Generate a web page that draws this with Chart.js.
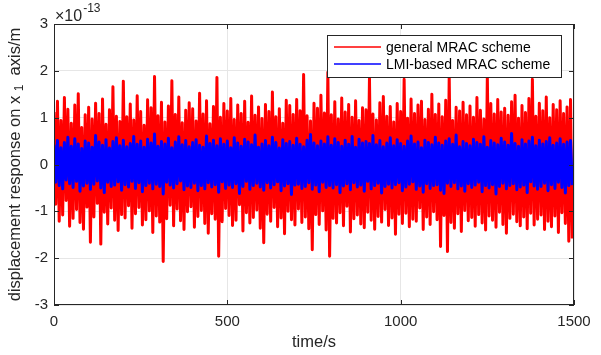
<!DOCTYPE html>
<html>
<head>
<meta charset="utf-8">
<script src="https://cdn.jsdelivr.net/npm/chart.js@4.4.0/dist/chart.umd.min.js"></script>
<style>
  body { margin: 0; background: #fff; }
  #wrap { width: 601px; height: 355px; }
</style>
</head>
<body>
<div id="wrap"><canvas id="plot" width="601" height="355"></canvas></div>
<script>
// Data (displacement in units of 1e-13 m)
const sampleStep = 5; // seconds between samples
const redValues = [
  1.12,-0.85,1.35,-1.21,0.94,-1.08,1.43,-0.77,1.18,-1.32,0.88,-1.15,1.27,-0.96,1.51,-1.24,0.79,-1.38,1.06,-0.91,
  1.22,-1.66,0.97,-1.12,1.31,-0.83,1.09,-1.70,1.40,-1.02,0.86,-1.27,1.17,-0.93,1.66,-1.19,1.03,-1.41,0.92,-1.07,
  1.78,-1.14,1.02,-0.88,1.29,-1.36,0.95,-1.05,1.47,-0.92,1.13,-1.29,0.84,-1.18,1.38,-0.99,1.21,-1.45,1.88,-1.10,
  1.04,-1.23,1.33,-2.07,0.91,-1.16,1.25,-0.87,1.79,-1.31,1.07,-0.95,1.44,-1.20,0.89,-1.39,1.16,-1.01,1.32,-0.90,
  1.19,-1.34,0.93,-1.11,1.52,-0.98,1.08,-1.26,1.36,-1.47,0.87,-1.05,1.24,-1.17,1.86,-1.96,1.01,-1.22,1.30,-0.94,
  1.14,-1.09,1.41,-1.30,0.96,-1.19,1.27,-0.86,1.09,-1.42,1.35,-1.03,0.90,-1.25,1.46,-1.13,1.05,-0.97,1.23,-1.36,
  0.98,-1.67,1.28,-1.06,1.13,-1.21,1.55,-0.92,1.02,-1.33,1.19,-1.14,0.88,-1.48,1.37,-1.00,1.26,-1.18,1.07,-1.29,
  1.39,-0.95,1.15,-1.24,1.92,-1.12,1.04,-1.37,0.93,-1.82,1.31,-1.07,1.20,-1.28,1.48,-0.99,1.10,-1.40,1.97,-1.96,
  1.06,-1.15,1.34,-1.25,0.97,-1.03,1.42,-1.31,1.12,-0.89,1.28,-1.44,1.01,-1.16,1.36,-1.08,0.94,-1.27,1.21,-1.35,
  1.17,-1.02,1.84,-1.19,1.08,-1.38,0.95,-1.11,1.32,-1.23,1.45,-0.96,1.03,-1.30,1.24,-1.14,0.91,-1.49,1.30,-1.06,
  1.13,-1.26,1.82,-1.04,0.99,-1.33,1.40,-1.17,1.09,-1.21,1.27,-0.93,1.35,-1.39,0.96,-1.12,1.18,-1.28,1.50,-1.01,
  1.07,-1.18,1.29,-1.75,1.02,-1.09,1.37,-1.86,1.89,-1.24,0.94,-1.36,1.22,-1.05,1.14,-1.43,1.33,-0.98,1.06,-1.20,
  1.25,-1.13,1.01,-1.32,1.43,-1.07,1.16,-1.25,0.97,-1.40,1.88,-1.10,1.30,-1.19,1.08,-1.34,1.39,-1.02,1.12,-1.28,
  1.20,-1.47,1.05,-1.15,1.34,-1.06,1.48,-1.22,0.99,-1.31,1.26,-1.12,1.11,-1.37,1.41,-1.04,1.82,-1.29,1.03,-1.17,
  1.31,-1.08,1.15,-1.39,1.44,-1.21,1.00,-1.33,1.28,-1.10,1.17,-1.45,1.36,-1.03,1.09,-1.26,1.23,-1.64,1.39,-1.58
];
const blueValues = [
  0.42,-0.38,0.51,-0.45,0.36,-0.52,0.47,-0.33,0.58,-0.41,0.39,-0.49,0.55,-0.36,0.44,-0.57,0.34,-0.46,0.50,-0.40,
  0.46,-0.53,0.37,-0.42,0.62,-0.35,0.48,-0.50,0.41,-0.60,0.53,-0.38,0.35,-0.47,0.49,-0.44,0.57,-0.37,0.40,-0.55,
  0.52,-0.43,0.38,-0.48,0.45,-0.36,0.60,-0.51,0.43,-0.39,0.50,-0.58,0.37,-0.45,0.54,-0.40,0.46,-0.52,0.65,-0.42,
  0.39,-0.47,0.49,-0.63,0.44,-0.38,0.56,-0.44,0.36,-0.50,0.48,-0.41,0.59,-0.35,0.42,-0.54,0.51,-0.46,0.38,-0.49,
  0.47,-0.40,0.53,-0.56,0.41,-0.45,0.37,-0.52,0.61,-0.39,0.45,-0.48,0.52,-0.43,0.40,-0.59,0.55,-0.37,0.43,-0.51,
  0.50,-0.44,0.36,-0.49,0.57,-0.41,0.46,-0.62,0.39,-0.47,0.54,-0.36,0.48,-0.53,0.42,-0.45,0.63,-0.40,0.37,-0.48,
  0.44,-0.55,0.51,-0.39,0.40,-0.50,0.58,-0.43,0.47,-0.37,0.35,-0.56,0.53,-0.46,0.45,-0.41,0.49,-0.64,0.41,-0.44,
  0.56,-0.42,0.43,-0.51,0.38,-0.47,0.52,-0.39,0.64,-0.53,0.46,-0.44,0.40,-0.58,0.50,-0.38,0.44,-0.49,0.59,-0.45,
  0.41,-0.50,0.55,-0.43,0.47,-0.60,0.39,-0.46,0.52,-0.41,0.43,-0.54,0.60,-0.39,0.37,-0.48,0.54,-0.44,0.46,-0.57,
  0.49,-0.36,0.45,-0.52,0.62,-0.45,0.42,-0.40,0.51,-0.61,0.38,-0.47,0.46,-0.42,0.57,-0.50,0.40,-0.43,0.53,-0.39,
  0.45,-0.56,0.39,-0.48,0.50,-0.42,0.61,-0.37,0.44,-0.53,0.48,-0.46,0.36,-0.59,0.52,-0.41,0.47,-0.51,0.42,-0.45,
  0.58,-0.43,0.46,-0.55,0.41,-0.62,0.50,-0.40,0.55,-0.47,0.43,-0.39,0.63,-0.52,0.38,-0.46,0.49,-0.57,0.45,-0.41,
  0.40,-0.49,0.54,-0.44,0.47,-0.38,0.43,-0.58,0.59,-0.45,0.37,-0.50,0.51,-0.43,0.46,-0.63,0.42,-0.47,0.56,-0.40,
  0.48,-0.52,0.41,-0.45,0.66,-0.41,0.45,-0.54,0.39,-0.48,0.53,-0.44,0.44,-0.60,0.50,-0.37,0.58,-0.46,0.40,-0.53,
  0.52,-0.47,0.44,-0.40,0.49,-0.56,0.57,-0.43,0.41,-0.51,0.46,-0.38,0.55,-0.49,0.43,-0.61,0.48,-0.45,0.51,-0.44
];
const seriesNames = ["general MRAC scheme", "LMI-based MRAC scheme"];
const xTicks = [0, 500, 1000, 1500];
const yTicks = [-3, -2, -1, 0, 1, 2, 3];

const FONT = "'Liberation Sans', Arial, sans-serif";
const TXT = "#262626";

const toPoints = vals => vals.map((v, i) => ({ x: i * sampleStep, y: v }));

// extra drawing: box, inner ticks, exponent, axis titles, legend
const decorations = {
  id: "decorations",
  afterDraw(chart) {
    const ctx = chart.ctx;
    const a = chart.chartArea;
    const xs = chart.scales.x, ys = chart.scales.y;
    ctx.save();
    ctx.strokeStyle = TXT;
    ctx.lineWidth = 1;
    ctx.strokeRect(a.left + 0.5, a.top + 0.5, a.right - a.left - 1, a.bottom - a.top - 1);
    ctx.beginPath();
    xTicks.forEach(t => {
      const px = Math.round(xs.getPixelForValue(t)) + 0.5;
      ctx.moveTo(px, a.bottom); ctx.lineTo(px, a.bottom - 5);
      ctx.moveTo(px, a.top); ctx.lineTo(px, a.top + 5);
    });
    yTicks.forEach(t => {
      const py = Math.round(ys.getPixelForValue(t)) + 0.5;
      ctx.moveTo(a.left, py); ctx.lineTo(a.left + 5, py);
      ctx.moveTo(a.right, py); ctx.lineTo(a.right - 5, py);
    });
    ctx.stroke();

    // exponent label
    ctx.fillStyle = TXT;
    ctx.textBaseline = "alphabetic";
    ctx.textAlign = "left";
    ctx.font = "16px " + FONT;
    ctx.fillText("\u00d710", 55, 21);
    const w = ctx.measureText("\u00d710").width;
    ctx.font = "12px " + FONT;
    ctx.fillText("-13", 55 + w + 1, 12);

    // y title with subscript
    ctx.translate(15, (a.top + a.bottom) / 2);
    ctx.rotate(-Math.PI / 2);
    ctx.textBaseline = "middle";
    const p1 = "displacement response on x ", p2 = "1", p3 = "  axis/m";
    ctx.font = "16.5px " + FONT;
    const w1 = ctx.measureText(p1).width, w3 = ctx.measureText(p3).width;
    ctx.font = "12px " + FONT;
    const w2 = ctx.measureText(p2).width;
    const sx = -(w1 + w2 + w3) / 2;
    ctx.font = "16.5px " + FONT;
    ctx.fillText(p1, sx, 0);
    ctx.font = "12px " + FONT;
    ctx.fillText(p2, sx + w1, 5);
    ctx.font = "16.5px " + FONT;
    ctx.fillText(p3, sx + w1 + w2, 0);
    ctx.setTransform(1, 0, 0, 1, 0, 0);

    // x title
    ctx.textAlign = "center";
    ctx.fillText("time/s", (a.left + a.right) / 2, 342);

    // legend
    const lx = 327, ly = 35, lw = 234, lh = 42;
    ctx.fillStyle = "#fff";
    ctx.fillRect(lx, ly, lw, lh);
    ctx.strokeStyle = TXT;
    ctx.lineWidth = 1;
    ctx.strokeRect(lx + 0.5, ly + 0.5, lw, lh);
    const cols = ["#ff0000", "#0000ff"];
    ctx.textAlign = "left";
    ctx.font = "14px " + FONT;
    seriesNames.forEach((n, i) => {
      const yy = 47 + i * 17;
      ctx.strokeStyle = cols[i];
      ctx.lineWidth = 1.5;
      ctx.beginPath(); ctx.moveTo(334, yy); ctx.lineTo(381, yy); ctx.stroke();
      ctx.fillStyle = "#000";
      ctx.fillText(n, 386, yy + 1);
    });
    ctx.restore();
  }
};

new Chart(document.getElementById("plot"), {
  type: "line",
  data: {
    datasets: [
      { label: seriesNames[0], data: toPoints(redValues), borderColor: "#ff0000", borderWidth: 3, borderJoinStyle: "round", pointRadius: 0, order: 1 },
      { label: seriesNames[1], data: toPoints(blueValues), borderColor: "#0000ff", borderWidth: 3, borderJoinStyle: "round", pointRadius: 0, order: 0 }
    ]
  },
  options: {
    responsive: false,
    animation: false,
    layout: { padding: { top: 24, right: 27, left: 0, bottom: 0 } },
    plugins: { legend: { display: false }, tooltip: { enabled: false } },
    scales: {
      x: {
        type: "linear", min: 0, max: 1500,
        afterBuildTicks: s => { s.ticks = xTicks.map(v => ({ value: v })); },
        afterFit: s => { s.height = 50; },
        grid: { color: "#e6e6e6", drawTicks: false },
        border: { display: false },
        ticks: { color: TXT, font: { family: FONT, size: 15 }, padding: 8, maxRotation: 0, callback: v => String(v) }
      },
      y: {
        min: -3, max: 3,
        afterBuildTicks: s => { s.ticks = yTicks.map(v => ({ value: v })); },
        afterFit: s => { s.width = 54; },
        grid: { color: "#e6e6e6", drawTicks: false },
        border: { display: false },
        ticks: { color: TXT, font: { family: FONT, size: 15 }, padding: 6, callback: v => String(v) }
      }
    }
  },
  plugins: [decorations]
});
</script>
</body>
</html>
